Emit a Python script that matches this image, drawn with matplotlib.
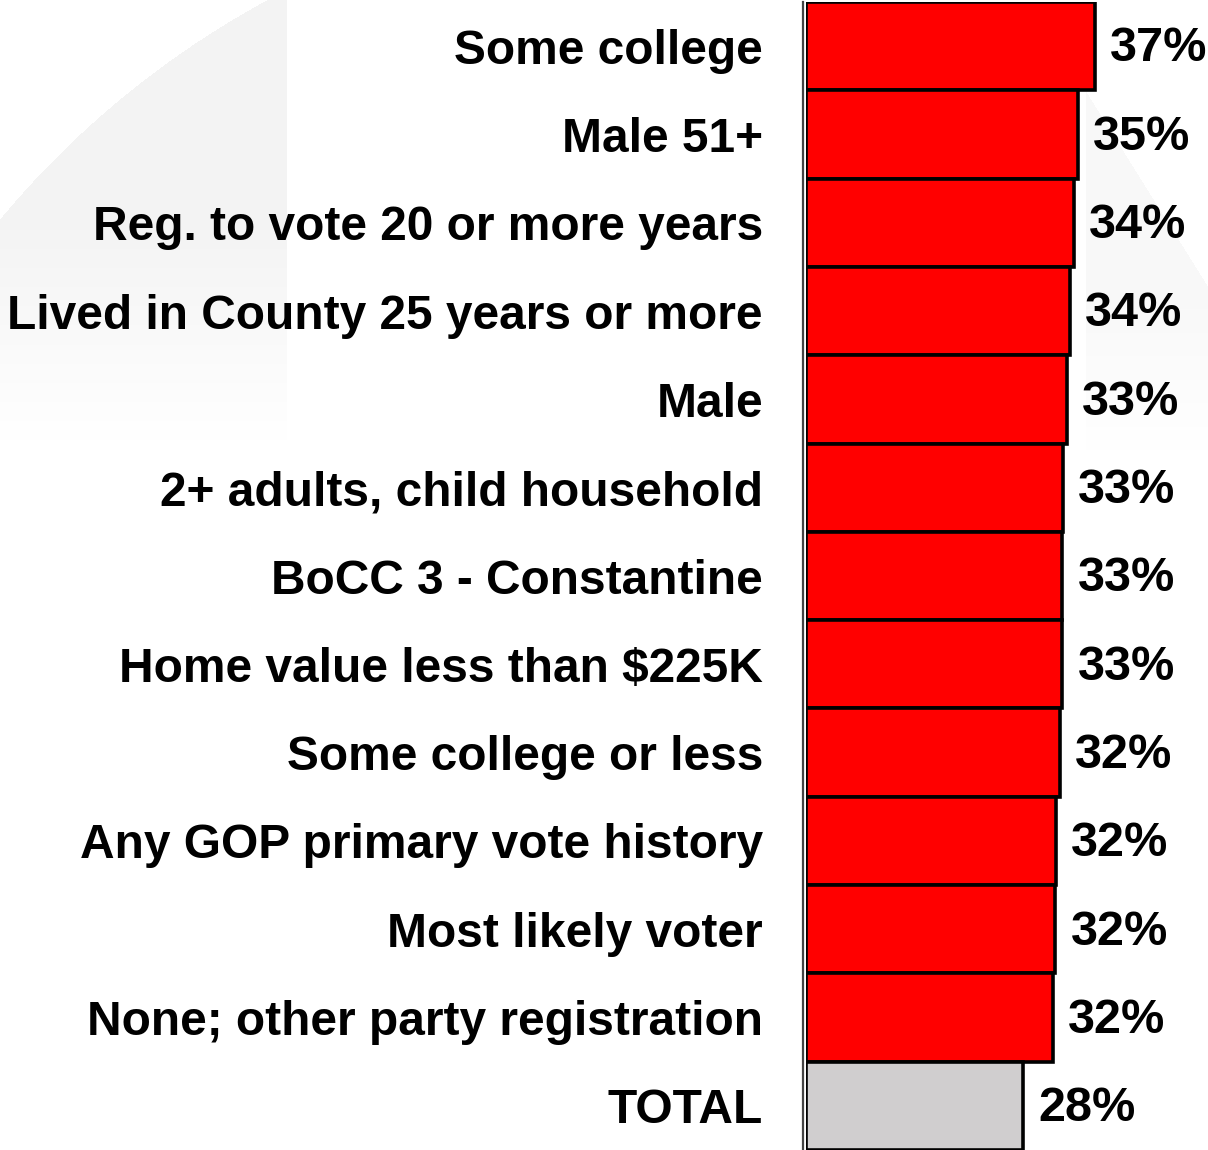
import numpy as np
import matplotlib
matplotlib.use('Agg')
import matplotlib.pyplot as plt
from matplotlib.lines import Line2D

# Data (top to bottom)
categories = [
    "Some college",
    "Male 51+",
    "Reg. to vote 20 or more years",
    "Lived in County 25 years or more",
    "Male",
    "2+ adults, child household",
    "BoCC 3 - Constantine",
    "Home value less than $225K",
    "Some college or less",
    "Any GOP primary vote history",
    "Most likely voter",
    "None; other party registration",
    "TOTAL",
]
values = [37.0, 34.8, 34.3, 33.8, 33.4, 32.9, 32.8, 32.8, 32.5, 32.0, 31.9, 31.6, 27.8]
value_labels = ["37%", "35%", "34%", "34%", "33%", "33%", "33%", "33%",
                "32%", "32%", "32%", "32%", "28%"]
colors = ["#ff0000"] * 12 + ["#d0cecf"]

plt.rcParams['font.family'] = ['Liberation Sans', 'DejaVu Sans']

W, H = 1208, 1150
fig = plt.figure(figsize=(W / 100, H / 100), dpi=100)
fig.patch.set_facecolor('white')

# faint watermark shapes in the background
bg = fig.add_axes([0, 0, 1, 1], zorder=-10)
yy, xx = np.mgrid[0:H, 0:W]
inside = ((xx - 700) ** 2 + (yy - 800) ** 2 < 910 ** 2) & (xx < 287)
fade = np.clip((440 - yy) / 220.0, 0, 1)
shade = np.where(inside, 0.045 * fade, 0.0)
diag = (xx > 1085) & ((yy - 90) > (xx - 1085) * 1.6) & (yy < 450)
shade = np.where(diag, 0.025 * np.clip((450 - yy) / 150.0, 0, 1), shade)
img = 1.0 - shade
bg.imshow(np.dstack([img, img, img]), extent=[0, W, H, 0], aspect='auto')
bg.set_xlim(0, W)
bg.set_ylim(H, 0)
bg.axis('off')

left = 806 / W
ax = fig.add_axes([left, 0, 1 - left, 1148 / H])
ax.patch.set_alpha(0)

y = np.arange(len(categories))
ax.barh(y, values, height=1.0, color=colors, edgecolor='black', linewidth=2.6)

for yi, v, lab in zip(y, values, value_labels):
    ax.annotate(lab, xy=(v, yi), xytext=(11, -2), textcoords='offset points',
                ha='left', va='center', fontsize=35, fontweight='bold', color='black')

ax.set_xlim(0, (W - 806) / 7.81)
ax.set_ylim(len(categories) - 0.5, -0.5)
ax.set_yticks(y)
ax.set_yticklabels(categories, fontsize=34.5, fontweight='bold')
ax.tick_params(axis='y', length=0, pad=31)
ax.set_xticks([])
for s in ax.spines.values():
    s.set_visible(False)

# vertical axis line
fig.add_artist(Line2D([802.5 / W, 802.5 / W], [0, 1148 / H], transform=fig.transFigure,
                      color='#444444', linewidth=1.6))

fig.savefig('out.png', dpi=100, facecolor='white')
